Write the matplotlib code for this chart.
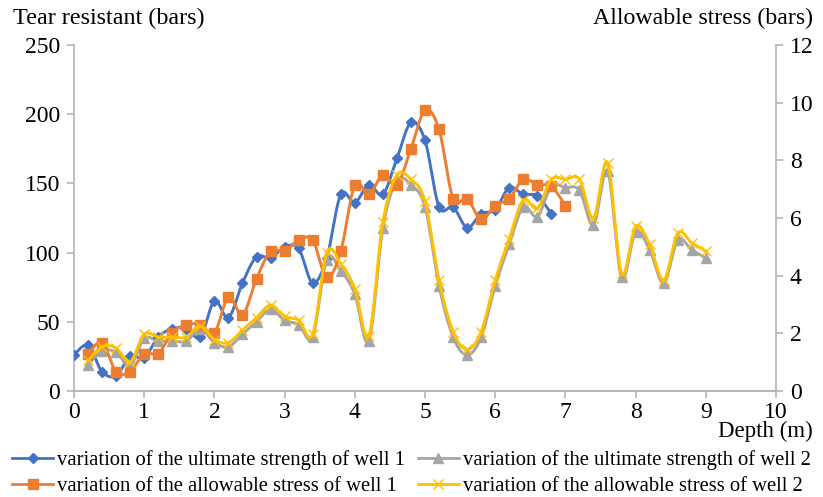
import numpy as np
import matplotlib
matplotlib.use("Agg")
import matplotlib.pyplot as plt
from matplotlib.lines import Line2D

plt.rcParams['font.family'] = ['Liberation Serif', 'DejaVu Serif']

# depth values (m)
depth = [0.0, 0.2, 0.4, 0.6, 0.8, 1.0, 1.2, 1.4, 1.6, 1.8,
         2.0, 2.2, 2.4, 2.6, 2.8, 3.0, 3.2, 3.4, 3.6, 3.8,
         4.0, 4.2, 4.4, 4.6, 4.8, 5.0, 5.2, 5.4, 5.6, 5.8,
         6.0, 6.2, 6.4, 6.6, 6.8, 7.0, 7.2, 7.4, 7.6, 7.8,
         8.0, 8.2, 8.4, 8.6, 8.8, 9.0]

# ultimate strength well 1 (left axis), depth 0 .. 6.8
ult1 = [26, 33, 14, 11, 25, 24, 39, 45, 45, 39,
        65, 53, 78, 97, 96, 104, 103, 78, 96, 142,
        136, 149, 142, 168, 194, 181, 133, 133, 118, 128,
        131, 147, 142, 141, 128]

# allowable stress well 1 (right axis), depth 0.2 .. 7.0
allow1 = [1.30, 1.68, 0.67, 0.67, 1.30, 1.30, 2.02, 2.30, 2.30, 2.02,
          3.26, 2.64, 3.89, 4.85, 4.85, 5.23, 5.23, 3.94, 4.85, 7.15,
          6.82, 7.49, 7.15, 8.40, 9.74, 9.07, 6.67, 6.67, 5.95, 6.43,
          6.67, 7.34, 7.15, 7.10, 6.43]

# ultimate strength well 2 (left axis), depth 0.2 .. 9.0
ult2 = [19, 29, 28, 18, 38, 36, 36, 36, 45, 35,
        32, 41, 50, 59, 51, 48, 39, 95, 87, 70,
        36, 118, 152, 149, 133, 76, 39, 26, 39, 76,
        106, 133, 126, 148, 147, 145, 120, 159, 82, 115,
        102, 78, 109, 102, 96]

# allowable stress well 2 (right axis), depth 0.2 .. 9.0
allow2 = [1.06, 1.54, 1.49, 1.01, 1.97, 1.87, 1.87, 1.87, 2.26, 1.78,
          1.68, 2.11, 2.54, 2.98, 2.59, 2.45, 1.97, 4.80, 4.42, 3.55,
          1.92, 5.86, 7.49, 7.34, 6.58, 3.84, 2.06, 1.44, 2.06, 3.84,
          5.28, 6.62, 6.34, 7.34, 7.34, 7.34, 6.00, 7.92, 4.08, 5.71,
          5.09, 3.84, 5.47, 5.14, 4.85]

labels = ["variation of the ultimate strength of well 1",
          "variation of the allowable stress of well 1",
          "variation of the ultimate strength of well 2",
          "variation of the allowable stress of well 2"]

c_blue = '#4472C4'
c_orange = '#ED7D31'
c_grey = '#A5A5A5'
c_yellow = '#FFC000'
c_axis = '#B4B4B4'


def smooth(x, y, n=20):
    # bezier smoothing like a spreadsheet "smoothed line"
    x = np.asarray(x, float)
    y = np.asarray(y, float)
    px = np.concatenate([[x[0]], x, [x[-1]]])
    py = np.concatenate([[y[0]], y, [y[-1]]])
    t = np.linspace(0, 1, n)[:, None]
    xs, ys = [], []
    for i in range(1, len(x)):
        x0, x1, x2, x3 = px[i - 1], px[i], px[i + 1], px[i + 2]
        y0, y1, y2, y3 = py[i - 1], py[i], py[i + 1], py[i + 2]
        cx1, cy1 = x1 + (x2 - x0) / 6, y1 + (y2 - y0) / 6
        cx2, cy2 = x2 - (x3 - x1) / 6, y2 - (y3 - y1) / 6
        bx = (1-t)**3*x1 + 3*(1-t)**2*t*cx1 + 3*(1-t)*t**2*cx2 + t**3*x2
        by = (1-t)**3*y1 + 3*(1-t)**2*t*cy1 + 3*(1-t)*t**2*cy2 + t**3*y2
        xs.append(bx.ravel())
        ys.append(by.ravel())
    return np.concatenate(xs), np.concatenate(ys)


fig = plt.figure(figsize=(8.23, 4.97), dpi=100)
ax = fig.add_axes([0.0899, 0.2133, 0.8530, 0.6962])
ax2 = ax.twinx()

d1 = depth[:len(ult1)]
d1b = depth[1:1 + len(allow1)]
d2 = depth[1:]

sx, sy = smooth(d1, ult1)
ax.plot(sx, sy, color=c_blue, lw=2.1, zorder=2)
ax.plot(d1, ult1, ls='none', marker='D', ms=5, color=c_blue, zorder=3)

sx, sy = smooth(d2, ult2)
ax.plot(sx, sy, color=c_grey, lw=2.1, zorder=2)
ax.plot(d2, ult2, ls='none', marker='^', ms=7, color=c_grey, zorder=3)

sx, sy = smooth(d1b, allow1)
ax2.plot(sx, sy, color=c_orange, lw=2.1, zorder=2)
ax2.plot(d1b, allow1, ls='none', marker='s', ms=6.5, color=c_orange, zorder=3)

sx, sy = smooth(d2, allow2)
ax2.plot(sx, sy, color=c_yellow, lw=2.1, zorder=4)
ax2.plot(d2, allow2, ls='none', marker='x', ms=7, mew=1, color=c_yellow, zorder=5)

ax.set_xlim(0, 10)
ax.set_ylim(0, 250)
ax2.set_ylim(0, 12)
ax.set_xticks(range(0, 11))
ax.set_yticks(range(0, 251, 50))
ax2.set_yticks(range(0, 13, 2))

for a in (ax, ax2):
    for s in a.spines.values():
        s.set_color(c_axis)
        s.set_linewidth(1.2)
    a.spines['top'].set_visible(False)
    a.tick_params(colors=c_axis, labelcolor='black', labelsize=17,
                  length=5, width=1.2)
ax.tick_params(axis='x', pad=3)
ax.tick_params(axis='y', pad=5)
ax2.tick_params(axis='y', pad=5)
ax2.spines['left'].set_visible(False)
ax.spines['right'].set_visible(False)

fig.text(0.016, 0.962, "Tear resistant (bars)", fontsize=17.4,
         ha='left', va='center')
fig.text(0.988, 0.962, "Allowable stress (bars)", fontsize=17.2,
         ha='right', va='center')
fig.text(0.988, 0.131, "Depth (m)", fontsize=16.5, ha='right', va='center')

handles = [Line2D([], [], color=c_blue, lw=2, marker='D', ms=5),
           Line2D([], [], color=c_orange, lw=2, marker='s', ms=6.5),
           Line2D([], [], color=c_grey, lw=2, marker='^', ms=7),
           Line2D([], [], color=c_yellow, lw=2, marker='x', ms=7, mew=1)]
fig.legend(handles, labels, ncol=2, loc='center', bbox_to_anchor=(0.5, 0.048),
           frameon=False, fontsize=14.9, handlelength=2.0, handletextpad=0.2,
           columnspacing=0.6, labelspacing=0.3, borderaxespad=0)

fig.savefig("out.png", dpi=100)
